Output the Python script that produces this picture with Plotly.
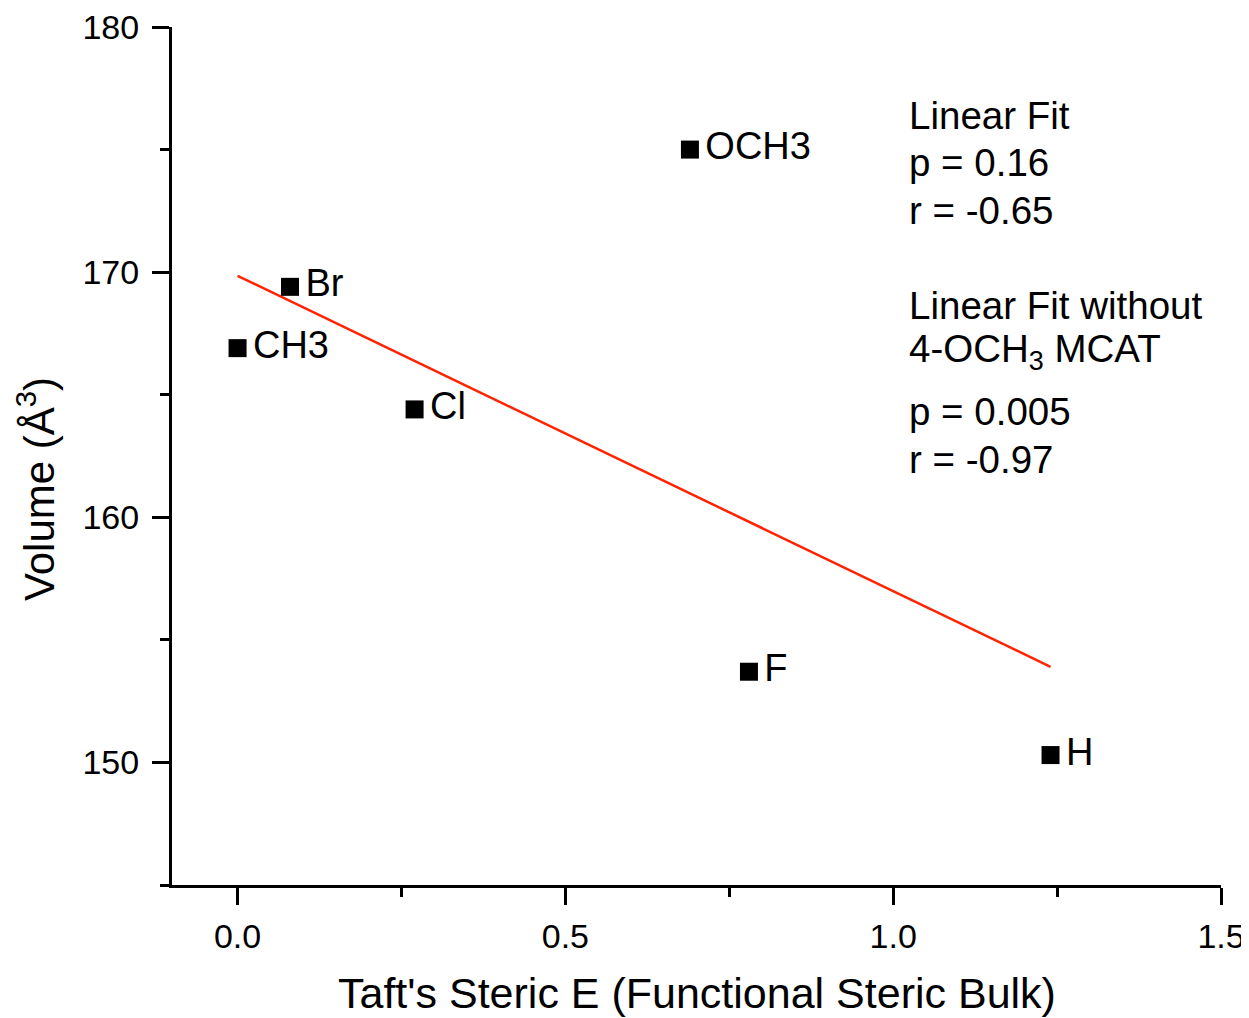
import plotly.graph_objects as go

# Datenpunkte (Taft's steric E vs. Volumen)
substituents = ["Br", "CH3", "Cl", "OCH3", "F", "H"]
taft_e = [0.08, 0.00, 0.27, 0.69, 0.78, 1.24]
volume = [169.4, 166.9, 164.4, 175.0, 153.7, 150.3]

fit_x = [0.00, 1.24]
fit_y = [169.85, 153.9]

# Textblock rechts oben
stats_lines = [
    "Linear Fit",
    "p = 0.16",
    "r = -0.65",
    "Linear Fit without",
    "4-OCH<sub>3</sub> MCAT",
    "p = 0.005",
    "r = -0.97",
]
stats_pixel_y = [116, 163, 210, 305, 351, 412, 459]

x_title = "Taft's Steric E (Functional Steric Bulk)"
y_title = "Volume (Å<sup>3</sup>)"

FONT = "Arial, Liberation Sans, sans-serif"
# die Seite hat 8px Rand -> Figur entsprechend kleiner / verschoben
OFF = 8
W, H = 1249 - OFF, 1018 - OFF
L, T = 172 - OFF, 27 - OFF
R = W - (1221 - OFF)
B = H - (885 - OFF)

fig = go.Figure()

fig.add_trace(go.Scatter(
    x=fit_x, y=fit_y,
    mode="lines",
    line=dict(color="rgb(255,35,0)", width=2.5),
    showlegend=False,
    hoverinfo="skip",
))

fig.add_trace(go.Scatter(
    x=taft_e, y=volume,
    mode="markers+text",
    marker=dict(symbol="square", size=18, color="black"),
    text=["\u200a" + s for s in substituents],
    textposition="middle right",
    textfont=dict(family=FONT, size=38, color="black"),
    showlegend=False,
))

plot_w = W - L - R
plot_h = H - T - B
for line, py in zip(stats_lines, stats_pixel_y):
    fig.add_annotation(
        text=line,
        xref="paper", yref="paper",
        x=(907 - 172) / plot_w, y=(885 - py) / plot_h,
        xanchor="left", yanchor="middle",
        showarrow=False,
        font=dict(family=FONT, size=38.5, color="black"),
    )

# Achsentitel als Annotationen (genauer positionierbar)
fig.add_annotation(
    text=x_title, xref="paper", yref="paper",
    x=(697 - 172) / plot_w, y=0, yshift=-(993 - 885),
    xanchor="center", yanchor="middle", showarrow=False,
    font=dict(family=FONT, size=43, color="black"),
)
fig.add_annotation(
    text=y_title, xref="paper", yref="paper",
    x=0, xshift=-(172 - 36), y=(885 - 489) / plot_h,
    xanchor="center", yanchor="middle", textangle=-90, showarrow=False,
    font=dict(family=FONT, size=42, color="black"),
)

axis_common = dict(
    showline=True, linecolor="black", linewidth=3,
    ticks="outside", ticklen=17, tickwidth=3, tickcolor="black",
    showgrid=False, zeroline=False, mirror=False, automargin=False,
    ticklabeloverflow="allow",
    tickfont=dict(family=FONT, size=34, color="black"),
)

fig.update_xaxes(
    range=[-0.1, 1.5], dtick=0.5, tick0=0, tickformat=".1f",
    minor=dict(dtick=0.25, tick0=0, ticklen=9, tickwidth=3, tickcolor="black", ticks="outside"),
    ticklabelstandoff=2,
    **axis_common,
)
fig.update_yaxes(
    range=[145, 180], dtick=10, tick0=150,
    minor=dict(dtick=5, tick0=145, ticklen=9, tickwidth=3, tickcolor="black", ticks="outside"),
    ticklabelstandoff=6,
    **axis_common,
)

fig.update_layout(
    width=W, height=H,
    margin=dict(l=L, r=R, t=T, b=B),
    plot_bgcolor="white", paper_bgcolor="white",
    font=dict(family=FONT, color="black"),
)

fig.write_html("out.html")
